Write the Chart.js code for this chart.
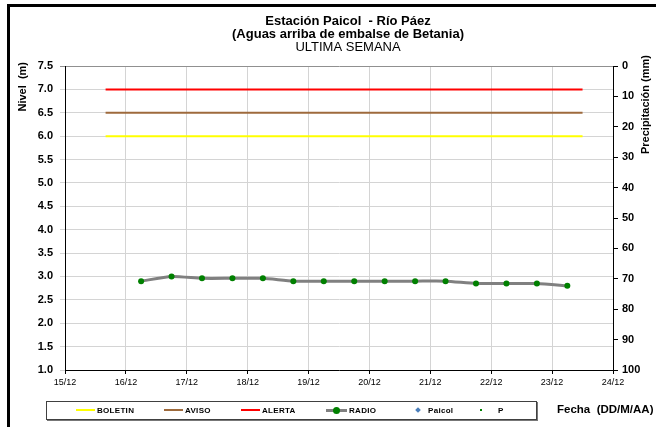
<!DOCTYPE html>
<html>
<head>
<meta charset="utf-8">
<script src="https://cdn.jsdelivr.net/npm/chart.js@4.4.1/dist/chart.umd.min.js"></script>
<style>
  body { margin: 0; background: #fff; font-family: "Liberation Sans", Arial, sans-serif; }
  #wrap { position: relative; width: 656px; height: 427px; overflow: hidden; }
  #marco { position: absolute; left: 7px; top: 4px; width: 700px; height: 500px; border: 3px solid #000; box-sizing: border-box; }
  #leyenda { position: absolute; left: 46px; top: 401px; width: 489px; height: 17px; border: 1px solid #404040; box-shadow: 1px 1px 0 #777; background: #fff; }
  .item { position: absolute; top: 0; height: 17px; display: flex; align-items: center; font: bold 8px "Liberation Sans", Arial, sans-serif; letter-spacing: 0.3px; }
  .sw { position: relative; display: inline-block; height: 9px; margin-right: 2px; }
  #fecha { position: absolute; left: 557px; top: 403px; font: bold 11.5px "Liberation Sans", Arial, sans-serif; white-space: pre; }
</style>
</head>
<body>
<div id="wrap">
  <div id="marco"></div>
  <canvas id="grafico" width="656" height="427"></canvas>
  <div id="leyenda"></div>
  <div id="fecha">Fecha  (DD/M/AA)</div>
</div>
<script>
// datos
var fechasEje = ['15/12', '16/12', '17/12', '18/12', '19/12', '20/12', '21/12', '22/12', '23/12', '24/12'];
var radioFechas = ['16/12 06:00', '16/12 18:00', '17/12 06:00', '17/12 18:00', '18/12 06:00',
  '18/12 18:00', '19/12 06:00', '19/12 18:00', '20/12 06:00', '20/12 18:00',
  '21/12 06:00', '21/12 18:00', '22/12 06:00', '22/12 18:00', '23/12 06:00'];
var radioNivel = [2.90, 3.00, 2.96, 2.96, 2.96, 2.90, 2.90, 2.90, 2.90, 2.90, 2.90, 2.85, 2.85, 2.85, 2.80];
var umbralFechas = ['15/12 16:00', '23/12 12:00'];
var boletin = [6.0, 6.0];
var aviso = [6.5, 6.5];
var alerta = [7.0, 7.0];
var paicol = [];
var precipitacion = [];

// dias desde 15/12 00:00
function dias(f) {
  var p = f.split(' ');
  var d = parseInt(p[0].split('/')[0], 10);
  var h = p[1] ? p[1].split(':') : ['0', '0'];
  return (d - 15) + (parseInt(h[0], 10) + parseInt(h[1], 10) / 60) / 24;
}

function puntos(fechas, valores) {
  return valores.map(function(v, i) { return { x: dias(fechas[i]), y: v }; });
}

var fuente = '"Liberation Sans", Arial, sans-serif';

var textos = {
  id: 'textos',
  afterDraw: function(chart) {
    var ctx = chart.ctx;
    ctx.save();
    ctx.fillStyle = '#000';
    ctx.textAlign = 'center';
    ctx.textBaseline = 'middle';
    ctx.font = 'bold 13px ' + fuente;
    ctx.fillText('Estación Paicol  - Río Páez', 348, 21);
    ctx.fillText('(Aguas arriba de embalse de Betania)', 348, 34);
    ctx.font = '13px ' + fuente;
    ctx.fillText('ULTIMA SEMANA', 348, 47);

    ctx.font = 'bold 11px ' + fuente;
    ctx.textAlign = 'right';
    ctx.translate(23, 62);
    ctx.rotate(-Math.PI / 2);
    ctx.fillText('Nivel  (m)', 0, 0);
    ctx.restore();

    ctx.save();
    ctx.fillStyle = '#000';
    ctx.font = 'bold 11px ' + fuente;
    ctx.textAlign = 'right';
    ctx.textBaseline = 'middle';
    ctx.translate(646, 55);
    ctx.rotate(-Math.PI / 2);
    ctx.fillText('Precipitación (mm)', 0, 0);
    ctx.restore();
  }
};

var config = {
  type: 'line',
  data: {
    datasets: [
      { label: 'BOLETIN', data: puntos(umbralFechas, boletin), borderColor: '#ffff00', borderWidth: 2, pointRadius: 0, yAxisID: 'y', order: 3 },
      { label: 'AVISO', data: puntos(umbralFechas, aviso), borderColor: '#9e6a3c', borderWidth: 2, pointRadius: 0, yAxisID: 'y', order: 3 },
      { label: 'ALERTA', data: puntos(umbralFechas, alerta), borderColor: '#ff0000', borderWidth: 2, pointRadius: 0, yAxisID: 'y', order: 3 },
      { label: 'RADIO', data: puntos(radioFechas, radioNivel), borderColor: '#808080', borderWidth: 3,
        pointRadius: 3, pointBackgroundColor: '#008000', pointBorderColor: '#008000', pointBorderWidth: 0, tension: 0.2, yAxisID: 'y', order: 1 },
      { label: 'Paicol', data: paicol, borderColor: '#4a7ebb', backgroundColor: '#4a7ebb', showLine: false, pointStyle: 'rectRot', pointRadius: 3, yAxisID: 'y', order: 2 },
      { label: 'P', data: precipitacion, borderColor: '#008000', backgroundColor: '#008000', showLine: false, pointStyle: 'rect', pointRadius: 1.5, yAxisID: 'y2', order: 2 }
    ]
  },
  options: {
    responsive: false,
    animation: false,
    layout: { padding: { top: 66, bottom: 37, left: 0, right: 0 } },
    plugins: {
      legend: { display: false },
      title: { display: false },
      tooltip: { enabled: false }
    },
    scales: {
      x: {
        type: 'linear',
        min: 0,
        max: 9,
        afterFit: function(s) { s.height = 20; },
        afterBuildTicks: function(s) {
          s.ticks = fechasEje.map(function(f, i) { return { value: i }; });
        },
        ticks: {
          stepSize: 1,
          padding: 3,
          maxRotation: 0,
          color: '#000',
          font: { family: fuente, size: 9 },
          callback: function(v) { return fechasEje[v]; }
        },
        grid: { color: '#d4d4d4', tickLength: 4, tickColor: '#000' },
        border: { color: '#000', width: 1 }
      },
      y: {
        position: 'left',
        min: 1,
        max: 7.5,
        afterFit: function(s) { s.width = 65; },
        ticks: {
          stepSize: 0.5,
          padding: 7,
          color: '#000',
          font: { family: fuente, size: 11, weight: 'bold' },
          callback: function(v) { return v.toFixed(1); }
        },
        grid: {
          color: function(c) { return c.tick && c.tick.value === 7.5 ? '#909090' : '#d4d4d4'; },
          tickLength: 5
        },
        border: { color: '#000', width: 1 }
      },
      y2: {
        position: 'right',
        min: 0,
        max: 100,
        reverse: true,
        afterFit: function(s) { s.width = 43; },
        ticks: {
          stepSize: 10,
          padding: 4,
          color: '#000',
          font: { family: fuente, size: 11, weight: 'bold' }
        },
        grid: { drawOnChartArea: false, tickLength: 5, color: '#000' },
        border: { color: '#000', width: 1 }
      }
    }
  },
  plugins: [textos]
};

// posiciones de la leyenda dentro del recuadro
var leyendaX = [29, 117, 194, 279, 365, 431];

function muestra(ds) {
  var s = document.createElement('span');
  s.className = 'sw';
  if (ds.label === 'RADIO') {
    s.style.width = '21px';
    s.innerHTML = '<span style="position:absolute;left:0;top:3px;width:21px;height:3px;background:' + ds.borderColor +
      '"></span><span style="position:absolute;left:7px;top:1px;width:7px;height:7px;border-radius:50%;background:' + ds.pointBackgroundColor + '"></span>';
  } else if (ds.label === 'Paicol') {
    s.style.width = '14px';
    s.innerHTML = '<span style="position:absolute;left:4px;top:2px;width:4px;height:4px;transform:rotate(45deg);background:' + ds.backgroundColor + '"></span>';
  } else if (ds.label === 'P') {
    s.style.width = '14px';
    s.innerHTML = '<span style="position:absolute;left:2px;top:3px;width:2px;height:2px;background:' + ds.backgroundColor + '"></span>';
  } else {
    s.style.width = '19px';
    s.innerHTML = '<span style="position:absolute;left:0;top:3px;width:19px;height:2px;background:' + ds.borderColor + '"></span>';
  }
  return s;
}

window.onload = function() {
  var ctx = document.getElementById('grafico').getContext('2d');
  window.miGrafico = new Chart(ctx, config);
  var ley = document.getElementById('leyenda');
  miGrafico.data.datasets.forEach(function(ds, i) {
    var it = document.createElement('div');
    it.className = 'item';
    it.style.left = leyendaX[i] + 'px';
    it.appendChild(muestra(ds));
    var t = document.createElement('span');
    t.textContent = ds.label;
    if (ds.label === 'P') t.style.marginLeft = '4px';
    it.appendChild(t);
    ley.appendChild(it);
  });
};
</script>
</body>
</html>
